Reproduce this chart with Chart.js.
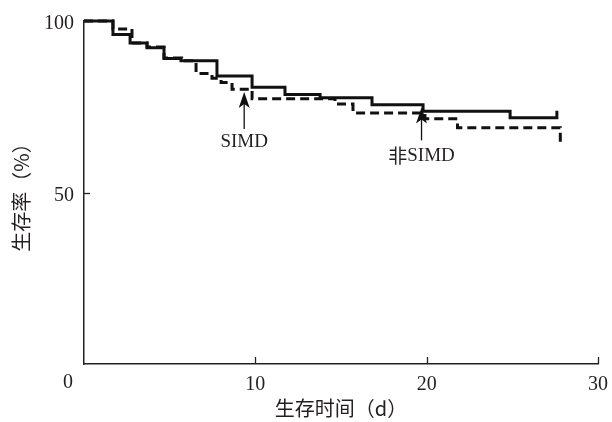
<!DOCTYPE html>
<html><head><meta charset="utf-8">
<script src="https://cdn.jsdelivr.net/npm/chart.js@4"></script>
<style>html,body{margin:0;padding:0;background:#fff}#wrap{width:612px;height:422px;position:relative}</style>
</head><body><div id="wrap"><canvas id="c" width="612" height="422"></canvas></div>
<script>
// Tick labels
const xTicks = [10, 20, 30];
const yTicks = [50, 100];
// Series: solid line (非SIMD)
const solidTimes = [0, 1.69, 2.69, 3.68, 4.67, 5.66, 7.76, 9.81, 11.73, 13.78, 16.81, 19.79, 24.87, 27.6, 27.6];
const solidSurv  = [100, 96.1, 93.6, 92.2, 89.1, 88.4, 84.0, 80.7, 78.6, 77.6, 75.6, 73.7, 71.8, 71.8, 73.8];
// Series: dashed line (SIMD)
const dashTimes = [0, 1.69, 2.8, 3.68, 4.67, 5.7, 6.54, 7.47, 8.0, 8.64, 9.81, 14.65, 15.7, 19.9, 21.8, 27.8, 27.8];
const dashSurv  = [100, 97.7, 93.6, 92.4, 89.2, 88.4, 84.7, 83.3, 82.1, 80.1, 77.3, 75.8, 73.2, 71.5, 68.9, 68.9, 64.4];
// Annotations: [label, x, arrow tip y, arrow tail y, text y]
const notes = [
  ['SIMD', 9.35, 79.3, 68.5, 64.8],
  ['非SIMD', 19.7, 74.8, 65.2, 60.6]
];

const TXT = '#231f20';
const pts = (t, s) => t.map((x, i) => ({x: x, y: s[i]}));

const annot = {
  id: 'annot',
  afterDatasetsDraw(chart) {
    const c = chart.ctx, xs = chart.scales.x, ys = chart.scales.y;
    c.save();
    // inward ticks
    c.strokeStyle = '#222'; c.lineWidth = 1.3;
    xTicks.forEach(v => { const px = Math.round(xs.getPixelForValue(v)) + 0.5; c.beginPath(); c.moveTo(px, ys.bottom); c.lineTo(px, ys.bottom - 7); c.stroke(); });
    yTicks.forEach(v => { const py = Math.round(ys.getPixelForValue(v)) + 0.5; c.beginPath(); c.moveTo(xs.left, py); c.lineTo(xs.left + 6, py); c.stroke(); });
    // origin label
    c.fillStyle = TXT; c.font = '20px "Liberation Serif"'; c.textAlign = 'center'; c.textBaseline = 'middle';
    c.fillText('0', xs.left - 16, ys.bottom + 19);
    // arrows + labels
    notes.forEach(n => {
      const px = xs.getPixelForValue(n[1]);
      const tip = ys.getPixelForValue(n[2]), tail = ys.getPixelForValue(n[3]);
      c.strokeStyle = '#111'; c.lineWidth = 1.3;
      c.beginPath(); c.moveTo(px, tail); c.lineTo(px, tip + 8); c.stroke();
      c.fillStyle = '#111';
      c.beginPath(); c.moveTo(px, tip); c.lineTo(px + 5.5, tip + 16); c.lineTo(px, tip + 12); c.lineTo(px - 5.5, tip + 16); c.closePath(); c.fill();
      const ty = ys.getPixelForValue(n[4]);
      c.fillStyle = TXT; c.textBaseline = 'middle';
      if (n[0].startsWith('非')) {
        c.font = '19px "Liberation Serif"';
        const w2 = c.measureText('SIMD').width;
        c.font = '19px "Noto Sans CJK SC"';
        const w1 = c.measureText('非').width;
        const x0 = px - (w1 + w2) / 2;
        c.textAlign = 'left';
        c.fillText('非', x0, ty);
        c.font = '19px "Liberation Serif"';
        c.fillText('SIMD', x0 + w1, ty);
      } else {
        c.font = '19px "Liberation Serif"'; c.textAlign = 'center';
        c.fillText(n[0], px, ty);
      }
    });
    c.restore();
  }
};

new Chart(document.getElementById('c'), {
  type: 'line',
  data: { datasets: [
    { label: '非SIMD', data: pts(solidTimes, solidSurv), borderColor: '#111', borderWidth: 3, stepped: 'before', pointRadius: 0, fill: false, borderCapStyle: 'butt', borderJoinStyle: 'miter', clip: 4 },
    { label: 'SIMD', data: pts(dashTimes, dashSurv), borderColor: '#111', borderWidth: 3, borderDash: [9, 5], stepped: 'before', pointRadius: 0, fill: false, borderCapStyle: 'butt', borderJoinStyle: 'miter', clip: 4 }
  ]},
  options: {
    responsive: false, animation: false, devicePixelRatio: 1,
    layout: { padding: { top: 21, right: 14, left: 0, bottom: 0 } },
    plugins: { legend: { display: false }, tooltip: { enabled: false } },
    scales: {
      x: {
        type: 'linear', min: 0, max: 30,
        afterBuildTicks: s => { s.ticks = xTicks.map(v => ({ value: v })); },
        grid: { display: false, drawTicks: false },
        border: { display: true, color: '#222', width: 1.5 },
        ticks: { padding: 9, color: TXT, font: { family: 'Liberation Serif', size: 20 }, maxRotation: 0, autoSkip: false },
        title: { display: true, text: '生存时间（d）', color: TXT, font: { family: 'Noto Sans CJK SC', size: 20 }, padding: { top: 0, bottom: 2 } },
        afterFit: s => { s.height = 58; s.paddingRight = 0; s.paddingLeft = 0; }
      },
      y: {
        type: 'linear', min: 0, max: 100,
        afterBuildTicks: s => { s.ticks = yTicks.map(v => ({ value: v })); },
        grid: { display: false, drawTicks: false },
        border: { display: true, color: '#222', width: 1.5 },
        ticks: { padding: 10, labelOffset: 3, color: TXT, font: { family: 'Liberation Serif', size: 20 }, autoSkip: false },
        title: { display: true, text: '生存率（%）', color: TXT, font: { family: 'Noto Sans CJK SC', size: 20 }, padding: { top: 9, bottom: 0 } },
        afterFit: s => { s.width = 84; s.paddingTop = 0; s.paddingBottom = 0; }
      }
    }
  },
  plugins: [annot]
});
</script></body></html>
